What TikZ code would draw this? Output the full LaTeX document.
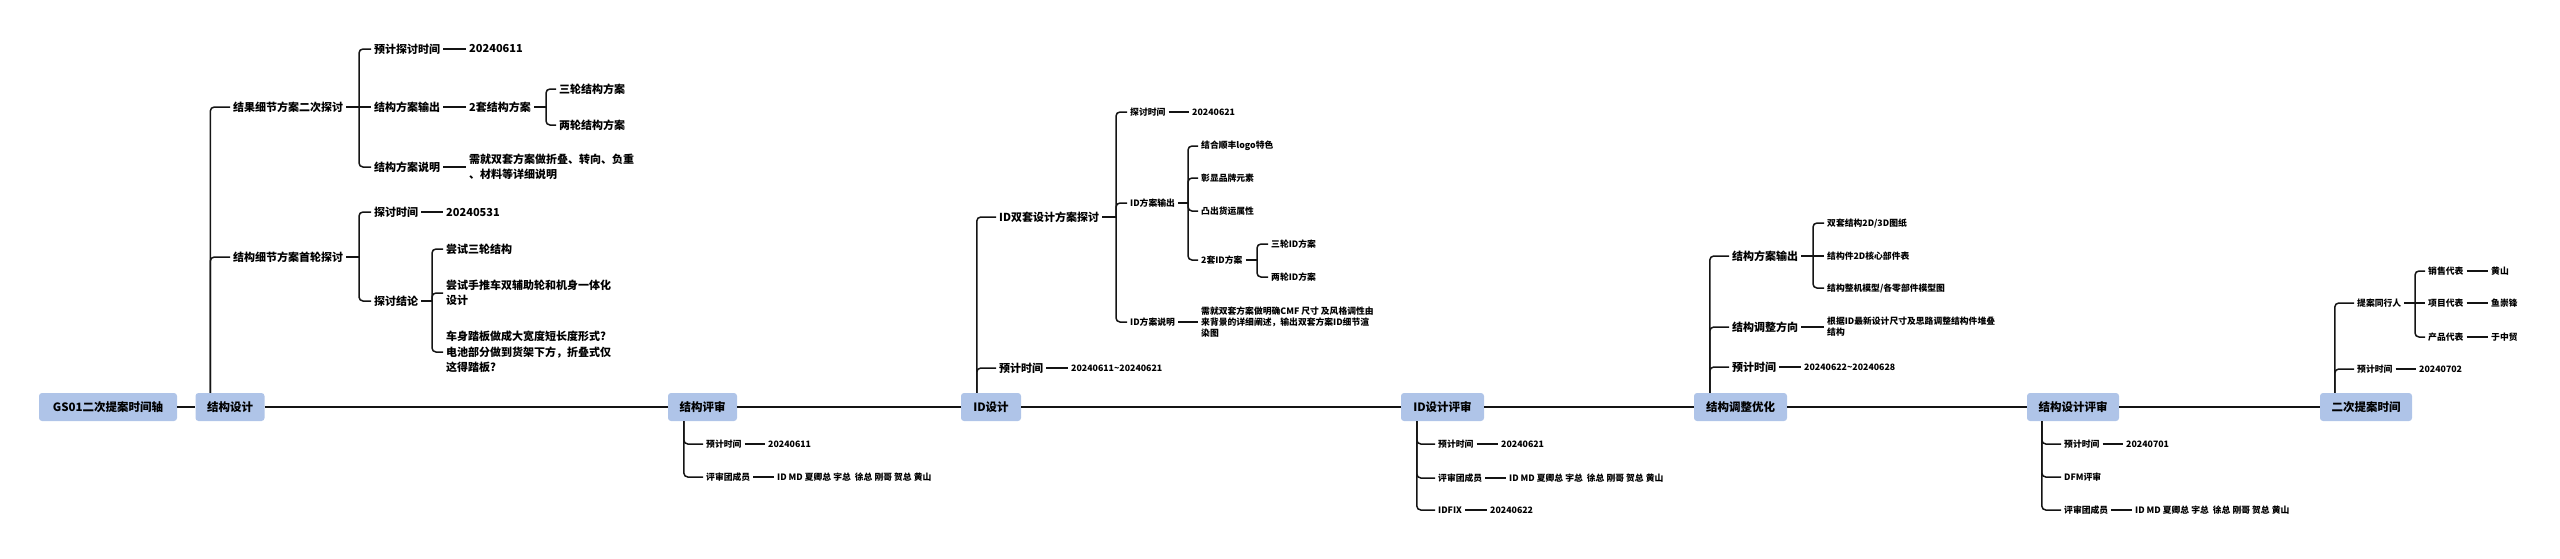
\documentclass[tikz,border=0pt]{standalone}
\usepackage{fontspec}
\setmainfont{Noto Sans CJK SC}
\usepackage{tikz}
\usetikzlibrary{calc,positioning}
\usepackage{xcolor}
\definecolor{boxblue}{RGB}{175,196,232}
\definecolor{inkline}{RGB}{20,20,20}

\tikzset{
  phase/.style={fill=boxblue, rounded corners=3pt, minimum height=28pt, inner sep=0pt,
    font=\fontsize{11.5}{14}\selectfont\bfseries},
  topic/.style={anchor=west, inner xsep=3pt, inner ysep=1pt, align=left,
    font=\fontsize{11}{15.5}\selectfont\bfseries},
  leaf/.style={anchor=west, inner xsep=3pt, inner ysep=1pt, align=left,
    font=\fontsize{8.8}{10.8}\selectfont\bfseries},
  axis/.style={draw=inkline, line width=2pt},
  twig/.style={draw=inkline, line width=1.5pt, rounded corners=4pt},
}

\begin{document}
\begin{tikzpicture}[x=1pt,y=-1pt]
    \useasboundingbox (0,0) rectangle (2560,558);

    % Zeitachse
    \node (gs) at (108,407) [phase, minimum width=138pt] {GS01二次提案时间轴};
    \node (sd) at (230,407) [phase, minimum width=69pt] {结构设计};
    \node (sp) at (702.5,407) [phase, minimum width=69pt] {结构评审};
    \node (id) at (991,407) [phase, minimum width=60pt] {ID设计};
    \node (ip) at (1442.5,407) [phase, minimum width=83pt] {ID设计评审};
    \node (so) at (1740.5,407) [phase, minimum width=93pt] {结构调整优化};
    \node (sr) at (2073,407) [phase, minimum width=92pt] {结构设计评审};
    \node (tp) at (2366,407) [phase, minimum width=92pt] {二次提案时间};
    \draw[axis] (gs) -- (sd) -- (sp) -- (id) -- (ip) -- (so) -- (sr) -- (tp);

    % 结构设计
    \coordinate (sdJ) at ([xshift=15pt]sd.north west);
    \node (sdA) at (230,107) [topic] {结果细节方案二次探讨};
    \node (sdA1) at (371,49) [topic] {预计探讨时间};
    \node (sdA1v) at (466,49) [topic] {20240611};
    \node (sdA2) at (371,107) [topic] {结构方案输出};
    \node (sdA2v) at (466,107) [topic] {2套结构方案};
    \node (sdA2a) at (556,89) [topic] {三轮结构方案};
    \node (sdA2b) at (556,125) [topic] {两轮结构方案};
    \node (sdA3) at (371,167) [topic] {结构方案说明};
    \node (sdA3v) at (466,167) [topic] {需就双套方案做折叠、转向、负重\\、材料等详细说明};
    \node (sdB) at (230,257) [topic] {结构细节方案首轮探讨};
    \node (sdB1) at (371,212) [topic] {探讨时间};
    \node (sdB1v) at (443,212) [topic] {20240531};
    \node (sdB2) at (371,301) [topic] {探讨结论};
    \node (sdB2a) at (443,249) [topic] {尝试三轮结构};
    \node (sdB2b) at (443,293) [topic] {尝试手推车双辅助轮和机身一体化\\设计};
    \node (sdB2c) at (443,352) [topic] {车身踏板做成大宽度短长度形式?\\电池部分做到货架下方，折叠式仅\\这得踏板?};
    \coordinate (sdAj) at (359,107);
    \coordinate (sdA2j) at (546,107);
    \coordinate (sdBj) at (359,257);
    \coordinate (sdB2j) at (432,301);
    \draw[twig] (sdJ) |- (sdA.west);
    \draw[twig] (sdJ) |- (sdB.west);
    \draw[twig] (sdA.east) -- (sdAj);
    \draw[twig] (sdAj) |- (sdA1.west);
    \draw[twig] (sdAj) -- (sdA2.west);
    \draw[twig] (sdAj) |- (sdA3.west);
    \draw[twig] (sdA1.east) -- (sdA1v.west);
    \draw[twig] (sdA2.east) -- (sdA2v.west);
    \draw[twig] (sdA3.east) -- (sdA3v.west);
    \draw[twig] (sdA2v.east) -- (sdA2j);
    \draw[twig] (sdA2j) |- (sdA2a.west);
    \draw[twig] (sdA2j) |- (sdA2b.west);
    \draw[twig] (sdB.east) -- (sdBj);
    \draw[twig] (sdBj) |- (sdB1.west);
    \draw[twig] (sdBj) |- (sdB2.west);
    \draw[twig] (sdB1.east) -- (sdB1v.west);
    \draw[twig] (sdB2.east) -- (sdB2j);
    \draw[twig] (sdB2j) |- (sdB2a.west);
    \draw[twig] (sdB2j) |- (sdB2b.west);
    \draw[twig] (sdB2j) |- (sdB2c.west);

    % 结构评审
    \coordinate (spJ) at ([xshift=16pt]sp.south west);
    \node (sp1) at (703,444) [leaf] {预计时间};
    \node (sp1v) at (765,444) [leaf] {20240611};
    \node (sp2) at (703,477) [leaf] {评审团成员};
    \node (sp2v) at (774,477) [leaf] {ID MD 夏卿总 宇总\ \ 徐总 刚哥 贺总 黄山};
    \draw[twig] (spJ) |- (sp1.west);
    \draw[twig] (spJ) |- (sp2.west);
    \draw[twig] (sp1.east) -- (sp1v.west);
    \draw[twig] (sp2.east) -- (sp2v.west);

    % ID设计
    \coordinate (idJ) at ([xshift=16pt]id.north west);
    \node (idA) at (996,217) [topic] {ID双套设计方案探讨};
    \node (idA1) at (1127,112) [leaf] {探讨时间};
    \node (idA1v) at (1189,112) [leaf] {20240621};
    \node (idA2) at (1127,203) [leaf] {ID方案输出};
    \node (idA2a) at (1198,146) [leaf] {结合顺丰logo特色};
    \node (idA2b) at (1198,178) [leaf] {彰显品牌元素};
    \node (idA2c) at (1198,211) [leaf] {凸出货运属性};
    \node (idA2d) at (1198,260) [leaf] {2套ID方案};
    \node (idA2d1) at (1268,244) [leaf] {三轮ID方案};
    \node (idA2d2) at (1268,277) [leaf] {两轮ID方案};
    \node (idA3) at (1127,322) [leaf] {ID方案说明};
    \node (idA3v) at (1198,322) [leaf] {需就双套方案做明确CMF 尺寸 及风格调性由\\来背景的详细阐述，输出双套方案ID细节渲\\染图};
    \node (idB) at (996,368) [topic] {预计时间};
    \node (idBv) at (1068,368) [leaf] {20240611\textasciitilde20240621};
    \coordinate (idAj) at (1116,217);
    \coordinate (idA2j) at (1188,203);
    \coordinate (idA2dj) at (1257,260);
    \draw[twig] (idJ) |- (idA.west);
    \draw[twig] (idJ) |- (idB.west);
    \draw[twig] (idA.east) -- (idAj);
    \draw[twig] (idAj) |- (idA1.west);
    \draw[twig] (idAj) |- (idA2.west);
    \draw[twig] (idAj) |- (idA3.west);
    \draw[twig] (idA1.east) -- (idA1v.west);
    \draw[twig] (idA3.east) -- (idA3v.west);
    \draw[twig] (idA2.east) -- (idA2j);
    \draw[twig] (idA2j) |- (idA2a.west);
    \draw[twig] (idA2j) |- (idA2b.west);
    \draw[twig] (idA2j) |- (idA2c.west);
    \draw[twig] (idA2j) |- (idA2d.west);
    \draw[twig] (idA2d.east) -- (idA2dj);
    \draw[twig] (idA2dj) |- (idA2d1.west);
    \draw[twig] (idA2dj) |- (idA2d2.west);
    \draw[twig] (idB.east) -- (idBv.west);

    % ID设计评审
    \coordinate (ipJ) at ([xshift=16pt]ip.south west);
    \node (ip1) at (1435,444) [leaf] {预计时间};
    \node (ip1v) at (1498,444) [leaf] {20240621};
    \node (ip2) at (1435,478) [leaf] {评审团成员};
    \node (ip2v) at (1506,478) [leaf] {ID MD 夏卿总 宇总\ \ 徐总 刚哥 贺总 黄山};
    \node (ip3) at (1435,510) [leaf] {IDFIX};
    \node (ip3v) at (1487,510) [leaf] {20240622};
    \draw[twig] (ipJ) |- (ip1.west);
    \draw[twig] (ipJ) |- (ip2.west);
    \draw[twig] (ipJ) |- (ip3.west);
    \draw[twig] (ip1.east) -- (ip1v.west);
    \draw[twig] (ip2.east) -- (ip2v.west);
    \draw[twig] (ip3.east) -- (ip3v.west);

    % 结构调整优化
    \coordinate (soJ) at ([xshift=16pt]so.north west);
    \node (soA) at (1729,256) [topic] {结构方案输出};
    \node (soA1) at (1824,223) [leaf] {双套结构2D/3D图纸};
    \node (soA2) at (1824,256) [leaf] {结构件2D核心部件表};
    \node (soA3) at (1824,288) [leaf] {结构整机模型/各零部件模型图};
    \node (soB) at (1729,327) [topic] {结构调整方向};
    \node (soBv) at (1824,327) [leaf] {根据ID最新设计尺寸及思路调整结构件堆叠\\结构};
    \node (soC) at (1729,367) [topic] {预计时间};
    \node (soCv) at (1801,367) [leaf] {20240622\textasciitilde20240628};
    \coordinate (soAj) at (1813,256);
    \draw[twig] (soJ) |- (soA.west);
    \draw[twig] (soJ) |- (soB.west);
    \draw[twig] (soJ) |- (soC.west);
    \draw[twig] (soA.east) -- (soAj);
    \draw[twig] (soAj) |- (soA1.west);
    \draw[twig] (soAj) -- (soA2.west);
    \draw[twig] (soAj) |- (soA3.west);
    \draw[twig] (soB.east) -- (soBv.west);
    \draw[twig] (soC.east) -- (soCv.west);

    % 结构设计评审
    \coordinate (srJ) at ([xshift=15pt]sr.south west);
    \node (sr1) at (2061,444) [leaf] {预计时间};
    \node (sr1v) at (2123,444) [leaf] {20240701};
    \node (sr2) at (2061,477) [leaf] {DFM评审};
    \node (sr3) at (2061,510) [leaf] {评审团成员};
    \node (sr3v) at (2132,510) [leaf] {ID MD 夏卿总 宇总\ \ 徐总 刚哥 贺总 黄山};
    \draw[twig] (srJ) |- (sr1.west);
    \draw[twig] (srJ) |- (sr2.west);
    \draw[twig] (srJ) |- (sr3.west);
    \draw[twig] (sr1.east) -- (sr1v.west);
    \draw[twig] (sr3.east) -- (sr3v.west);

    % 二次提案时间
    \coordinate (tpJ) at ([xshift=15pt]tp.north west);
    \node (tpA) at (2354,303) [leaf] {提案同行人};
    \node (tpA1) at (2425,271) [leaf] {销售代表};
    \node (tpA1v) at (2488,271) [leaf] {黄山};
    \node (tpA2) at (2425,303) [leaf] {项目代表};
    \node (tpA2v) at (2488,303) [leaf] {鱼崇锋};
    \node (tpA3) at (2425,337) [leaf] {产品代表};
    \node (tpA3v) at (2488,337) [leaf] {于中贸};
    \node (tpB) at (2354,369) [leaf] {预计时间};
    \node (tpBv) at (2416,369) [leaf] {20240702};
    \coordinate (tpAj) at (2415,303);
    \draw[twig] (tpJ) |- (tpA.west);
    \draw[twig] (tpJ) |- (tpB.west);
    \draw[twig] (tpA.east) -- (tpAj);
    \draw[twig] (tpAj) |- (tpA1.west);
    \draw[twig] (tpAj) -- (tpA2.west);
    \draw[twig] (tpAj) |- (tpA3.west);
    \draw[twig] (tpA1.east) -- (tpA1v.west);
    \draw[twig] (tpA2.east) -- (tpA2v.west);
    \draw[twig] (tpA3.east) -- (tpA3v.west);
    \draw[twig] (tpB.east) -- (tpBv.west);
\end{tikzpicture}
\end{document}
